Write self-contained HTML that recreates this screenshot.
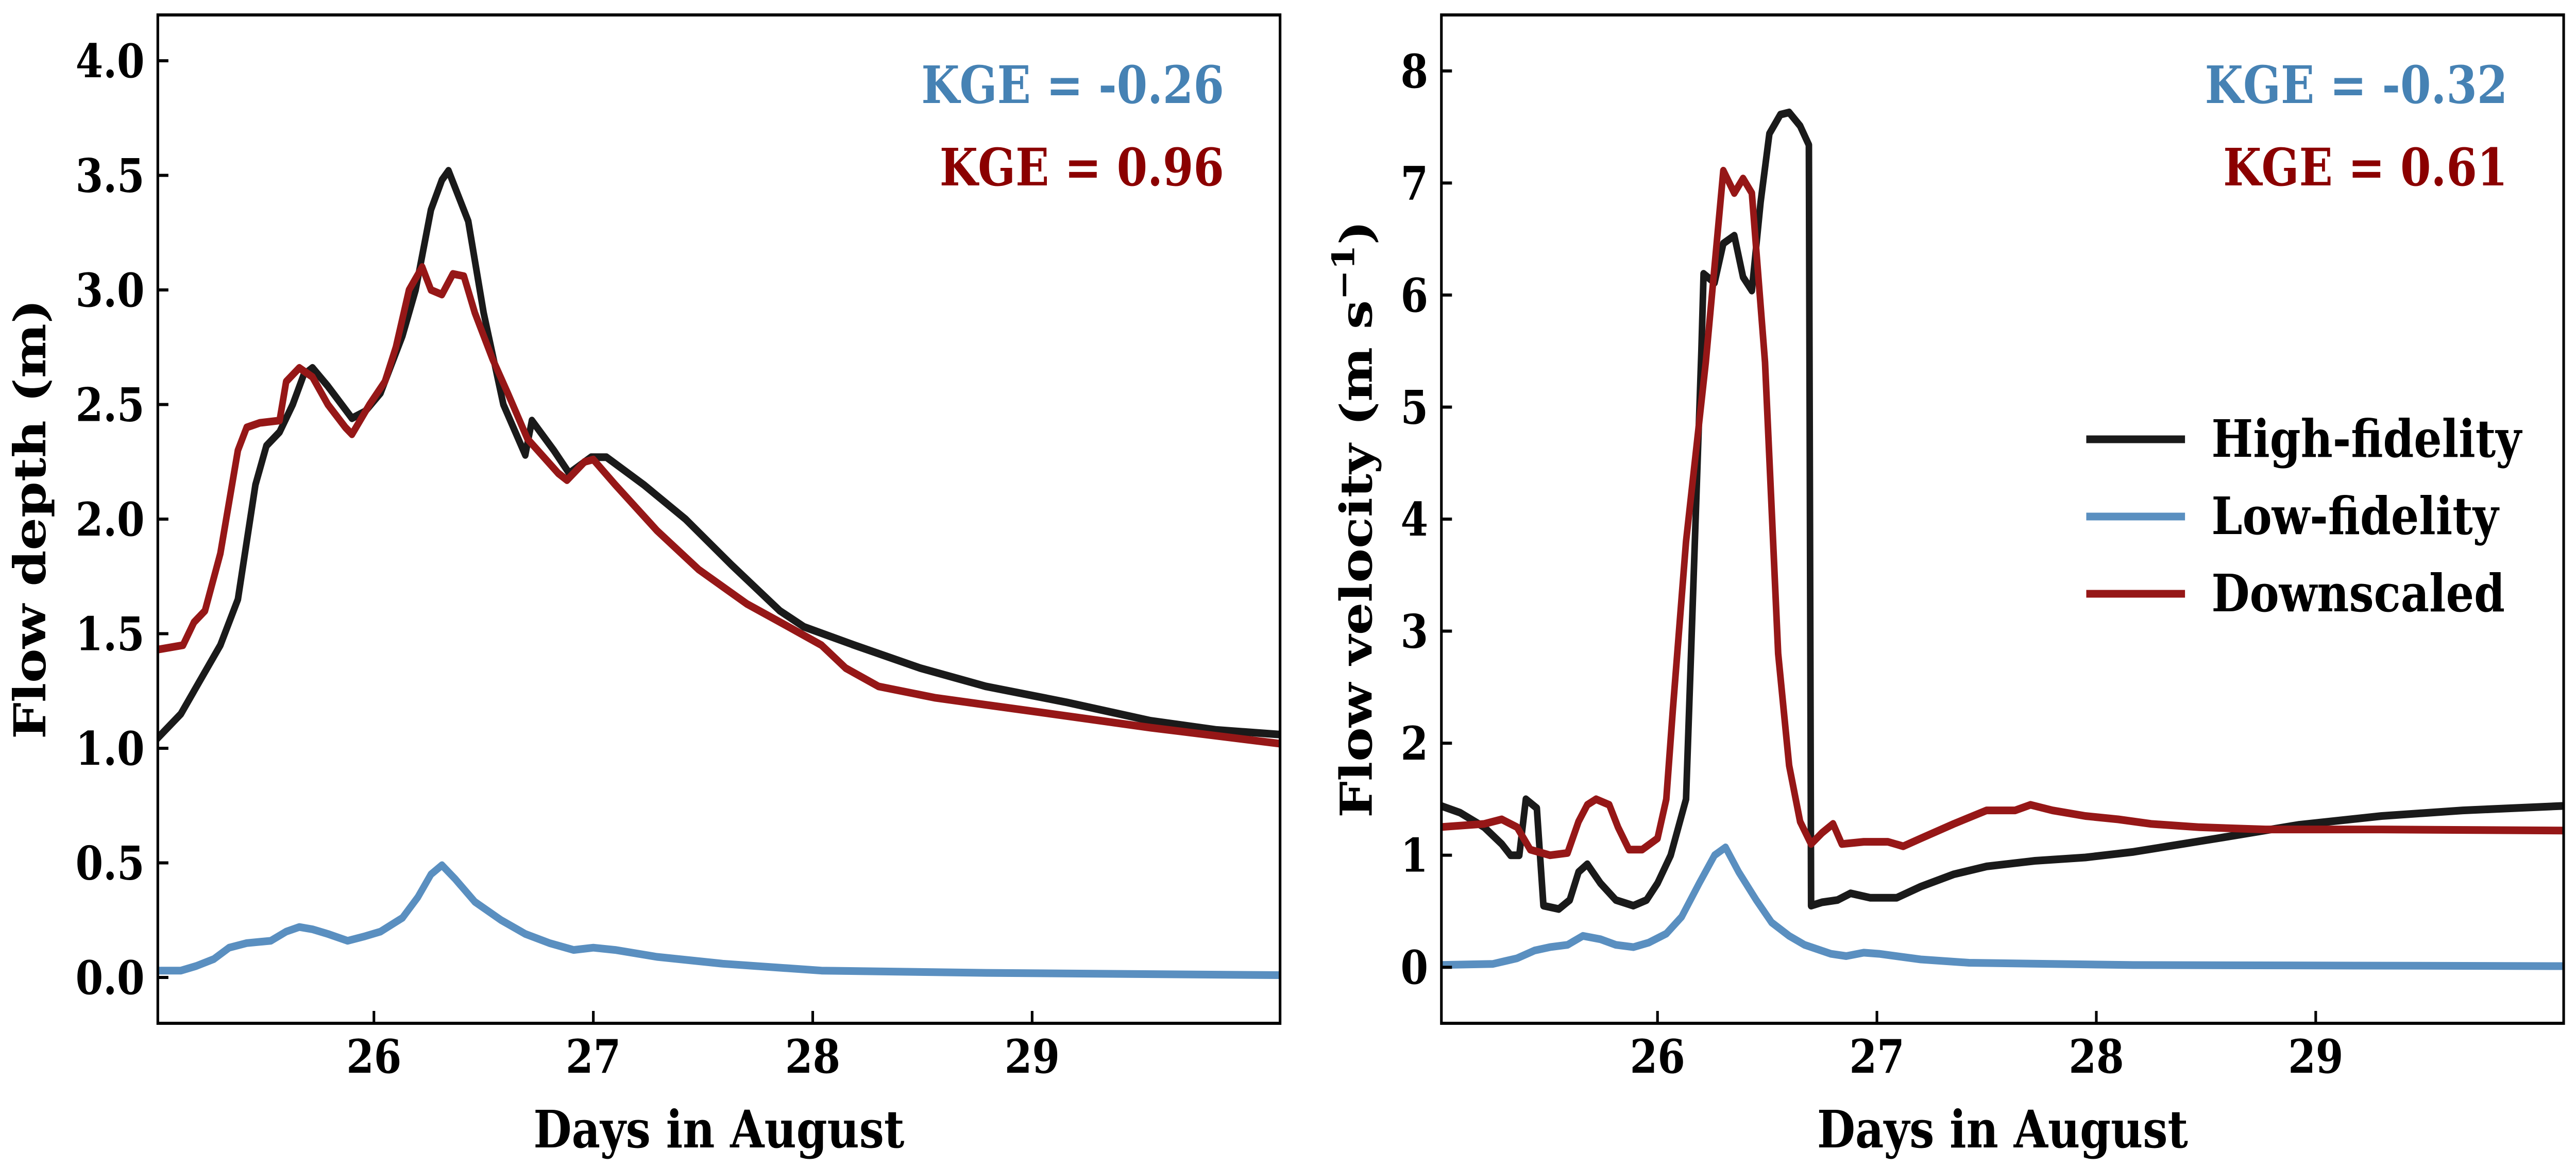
<!DOCTYPE html>
<html><head><meta charset="utf-8">
<meta name="viewport" content="width=5844, initial-scale=1">
<style>
html,body{margin:0;padding:0;background:#fff;overflow:hidden;width:100vw;height:100vh;}
svg{display:block;width:100vw;height:100vh;}
text{font-family:"DejaVu Serif","Liberation Serif",serif;font-weight:bold;}
</style></head>
<body>
<svg id="fig" viewBox="0 0 5844 2268" preserveAspectRatio="none" xmlns="http://www.w3.org/2000/svg">
<defs>
<clipPath id="clipL"><rect x="358" y="29" width="2546" height="1958"/></clipPath>
<clipPath id="clipR"><rect x="3270" y="29" width="2546" height="1958"/></clipPath>
</defs>
<g id="gL"></g>
<g id="gR"></g>
</svg>
<script>
// ---- shared ----
const xTicks = [26, 27, 28, 29];
const xTickLabels = ["26", "27", "28", "29"];
const xDomain = [25.015, 30.13];

// ---- depth panel data ----
const depthYTicks = [0, 0.5, 1, 1.5, 2, 2.5, 3, 3.5, 4];
const depthYTickLabels = ["0.0","0.5","1.0","1.5","2.0","2.5","3.0","3.5","4.0"];
const depthYDomain = [-0.2, 4.2];
const depthHighDays = [25.01,25.12,25.21,25.30,25.38,25.42,25.46,25.51,25.57,25.63,25.68,25.72,25.79,25.90,25.96,26.03,26.13,26.19,26.26,26.31,26.34,26.43,26.50,26.59,26.69,26.72,26.82,26.89,26.99,27.06,27.23,27.42,27.63,27.85,27.96,28.19,28.49,28.79,29.16,29.54,29.84,30.13];
const depthHighVals = [1.04,1.15,1.3,1.45,1.65,1.9,2.15,2.32,2.38,2.5,2.63,2.66,2.58,2.44,2.47,2.55,2.8,3.0,3.35,3.48,3.52,3.3,2.9,2.5,2.28,2.43,2.3,2.2,2.27,2.27,2.15,2.0,1.8,1.6,1.53,1.45,1.35,1.27,1.2,1.12,1.08,1.06];
const depthLowDays = [25.01,25.12,25.19,25.27,25.34,25.42,25.53,25.60,25.66,25.72,25.79,25.88,25.96,26.03,26.13,26.20,26.26,26.31,26.37,26.46,26.58,26.69,26.80,26.91,27.00,27.10,27.29,27.59,28.04,28.79,30.13];
const depthLowVals = [0.03,0.03,0.05,0.08,0.13,0.15,0.16,0.2,0.22,0.21,0.19,0.16,0.18,0.2,0.26,0.35,0.45,0.49,0.43,0.33,0.25,0.19,0.15,0.12,0.13,0.12,0.09,0.06,0.03,0.02,0.01];
const depthDownDays = [25.01,25.13,25.18,25.23,25.30,25.38,25.42,25.48,25.57,25.60,25.66,25.72,25.79,25.87,25.90,25.98,26.05,26.10,26.16,26.22,26.26,26.31,26.36,26.41,26.46,26.54,26.61,26.70,26.84,26.88,26.96,27.00,27.10,27.29,27.48,27.70,27.89,28.04,28.15,28.30,28.56,29.09,29.54,30.13];
const depthDownVals = [1.43,1.45,1.55,1.6,1.85,2.3,2.4,2.42,2.43,2.6,2.66,2.62,2.5,2.4,2.37,2.5,2.6,2.75,3.0,3.1,3.0,2.98,3.07,3.06,2.9,2.7,2.55,2.35,2.2,2.17,2.25,2.26,2.15,1.95,1.78,1.63,1.53,1.45,1.35,1.27,1.22,1.15,1.09,1.02];

// ---- velocity panel data ----
const velYTicks = [0,1,2,3,4,5,6,7,8];
const velYTickLabels = ["0","1","2","3","4","5","6","7","8"];
const velYDomain = [-0.5, 8.5];
const velHighDays = [25.00,25.10,25.21,25.29,25.33,25.37,25.40,25.45,25.48,25.55,25.60,25.64,25.68,25.74,25.81,25.89,25.95,26.00,26.06,26.13,26.20,26.21,26.26,26.30,26.35,26.39,26.43,26.47,26.51,26.56,26.60,26.65,26.69,26.70,26.75,26.82,26.88,26.97,27.09,27.20,27.35,27.50,27.72,27.95,28.17,28.55,28.92,29.30,29.67,30.13];
const velHighVals = [1.45,1.38,1.25,1.1,1.0,1.0,1.5,1.42,0.55,0.52,0.6,0.85,0.92,0.75,0.6,0.55,0.6,0.75,1.0,1.5,5.5,6.19,6.11,6.46,6.53,6.16,6.04,6.83,7.44,7.61,7.63,7.51,7.34,0.55,0.58,0.6,0.66,0.62,0.62,0.72,0.83,0.9,0.95,0.98,1.03,1.15,1.27,1.35,1.4,1.44];
const velLowDays = [25.00,25.25,25.36,25.44,25.51,25.59,25.66,25.74,25.81,25.89,25.96,26.04,26.11,26.19,26.26,26.31,26.37,26.45,26.52,26.60,26.67,26.79,26.86,26.94,27.01,27.20,27.42,28.17,30.13];
const velLowVals = [0.02,0.03,0.08,0.15,0.18,0.2,0.28,0.25,0.2,0.18,0.22,0.3,0.45,0.75,1.0,1.07,0.85,0.6,0.4,0.28,0.2,0.12,0.1,0.13,0.12,0.07,0.04,0.02,0.01];
const velDownDays = [25.00,25.21,25.29,25.36,25.42,25.51,25.59,25.64,25.68,25.72,25.78,25.82,25.87,25.93,26.00,26.04,26.07,26.13,26.22,26.30,26.35,26.39,26.43,26.49,26.55,26.60,26.65,26.70,26.75,26.80,26.84,26.94,27.05,27.12,27.20,27.35,27.50,27.63,27.70,27.80,27.95,28.10,28.25,28.47,28.77,29.30,30.13];
const velDownVals = [1.25,1.28,1.32,1.25,1.05,1.0,1.02,1.3,1.45,1.5,1.45,1.25,1.05,1.05,1.15,1.5,2.3,3.8,5.4,7.11,6.91,7.04,6.91,5.4,2.8,1.8,1.3,1.1,1.2,1.28,1.1,1.12,1.12,1.08,1.15,1.28,1.4,1.4,1.45,1.4,1.35,1.32,1.28,1.25,1.23,1.23,1.22];

const NS = "http://www.w3.org/2000/svg";
const BLACK = "#1a1a1a", BLUE = "#5a8fc0", RED = "#961717";
function mk(tag, attrs, parent) {
  const e = document.createElementNS(NS, tag);
  for (const k in attrs) e.setAttribute(k, attrs[k]);
  parent.appendChild(e);
  return e;
}

function drawPanel(g, left, clipId, yDomain, yTicks, yTickLabels, series, ylabel, ylabelSup, ylabelOffset, kge, legend) {
  const top = 29, W = 2546, H = 1958, bottom = top + H, right = left + W;
  const sx = d => left + (d - xDomain[0]) / (xDomain[1] - xDomain[0]) * W;
  const sy = v => bottom - (v - yDomain[0]) / (yDomain[1] - yDomain[0]) * H;

  const sg = mk("g", {"clip-path": "url(#" + clipId + ")"}, g);
  series.forEach(s => {
    const pts = s.days.map((d, i) => sx(d).toFixed(1) + "," + sy(s.vals[i]).toFixed(1)).join(" ");
    const pl = mk("polyline", {points: pts, fill: "none", stroke: s.color, "stroke-width": 15, "stroke-linejoin": "round", "stroke-linecap": "butt"}, sg);
    
    
  });

  xTicks.forEach((t, i) => {
    const x = sx(t);
    const tk = mk("line", {x1: x, x2: x, y1: bottom, y2: bottom - 24, stroke: "#000", "stroke-width": 6}, g);
    
    
    const tl = mk("text", {x: x, y: 2083, "text-anchor": "middle", "font-size": 90}, g);
    tl.textContent = xTickLabels[i];
    
    
  });
  yTicks.forEach((t, i) => {
    const y = sy(t);
    const tk = mk("line", {x1: left, x2: left + 24, y1: y, y2: y, stroke: "#000", "stroke-width": 6}, g);
    
    
    const tl = mk("text", {x: left - 30, y: y + 32, "text-anchor": "end", "font-size": 90}, g);
    tl.textContent = yTickLabels[i];
    
    
  });
  const fr = mk("rect", {x: left, y: top, width: W, height: H, fill: "none", stroke: "#000", "stroke-width": 6}, g);
  
  

  const xl = mk("text", {x: left + W / 2, y: 2228, "text-anchor": "middle", "font-size": 100}, g);
  xl.textContent = "Days in August";
  
  
  const cx = left - ylabelOffset, cy = top + H / 2;
  const yl = mk("text", {x: cx, y: cy, "text-anchor": "middle", "font-size": 100, transform: "rotate(-90 " + cx + " " + cy + ")"}, g);
  yl.textContent = ylabel;
  if (ylabelSup) {
    const sup = mk("tspan", {dy: -40, "font-size": 70}, yl);
    sup.textContent = ylabelSup;
    const cl = mk("tspan", {dy: 40}, yl);
    cl.textContent = ")";
  }
  
  

  kge.forEach((k, i) => {
    const t = mk("text", {x: right - 127, y: 200 + i * 160, "text-anchor": "end", "font-size": 100, fill: k.color}, g);
    t.textContent = k.text;
    
    
  });

  if (legend) {
    legend.forEach((l, i) => {
      const y = 853 + i * 150;
      const ln = mk("line", {x1: 4733, x2: 4957, y1: y, y2: y, stroke: l.color, "stroke-width": 15}, g);
      
      
      const tx = mk("text", {x: 5017, y: y + 34, "font-size": 100}, g);
      tx.textContent = l.text;
      
      
    });
  }
}

drawPanel(document.getElementById("gL"), 358, "clipL", depthYDomain, depthYTicks, depthYTickLabels,
  [{name: "low-fidelity-depth-line", days: depthLowDays, vals: depthLowVals, color: BLUE},
   {name: "high-fidelity-depth-line", days: depthHighDays, vals: depthHighVals, color: BLACK},
   {name: "downscaled-depth-line", days: depthDownDays, vals: depthDownVals, color: RED}],
  "Flow depth (m)", null, 255,
  [{text: "KGE = -0.26", color: "#4682b4", name: "kge-low-fidelity-depth"},
   {text: "KGE = 0.96", color: "#8b0000", name: "kge-downscaled-depth"}], null);

drawPanel(document.getElementById("gR"), 3270, "clipR", velYDomain, velYTicks, velYTickLabels,
  [{name: "low-fidelity-velocity-line", days: velLowDays, vals: velLowVals, color: BLUE},
   {name: "high-fidelity-velocity-line", days: velHighDays, vals: velHighVals, color: BLACK},
   {name: "downscaled-velocity-line", days: velDownDays, vals: velDownVals, color: RED}],
  "Flow velocity (m s", "\u22121", 158,
  [{text: "KGE = -0.32", color: "#4682b4", name: "kge-low-fidelity-velocity"},
   {text: "KGE = 0.61", color: "#8b0000", name: "kge-downscaled-velocity"}],
  [{text: "High-fidelity", color: BLACK}, {text: "Low-fidelity", color: BLUE}, {text: "Downscaled", color: RED}]);
</script>
</body></html>
